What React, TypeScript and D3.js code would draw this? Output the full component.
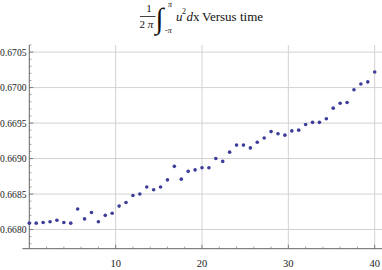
import React from 'react';
import * as d3 from 'd3';

const times = [0, 0.8, 1.6, 2.4, 3.2, 4, 4.8, 5.6, 6.4, 7.2, 8, 8.8, 9.6, 10.4, 11.2, 12, 12.8, 13.6, 14.4, 15.2, 16, 16.8, 17.6, 18.4, 19.2, 20, 20.8, 21.6, 22.4, 23.2, 24, 24.8, 25.6, 26.4, 27.2, 28, 28.8, 29.6, 30.4, 31.2, 32, 32.8, 33.6, 34.4, 35.2, 36, 36.8, 37.6, 38.4, 39.2, 40];
const values = [0.66809, 0.66809, 0.6681, 0.66811, 0.66813, 0.6681, 0.66809, 0.66829, 0.66815, 0.66824, 0.66811, 0.6682, 0.66823, 0.66833, 0.66838, 0.66848, 0.6685, 0.6686, 0.66856, 0.6686, 0.6687, 0.66889, 0.66871, 0.66882, 0.66884, 0.66887, 0.66887, 0.669, 0.66896, 0.66909, 0.66919, 0.66919, 0.66915, 0.66923, 0.66929, 0.66938, 0.66935, 0.66933, 0.66939, 0.6694, 0.66948, 0.66951, 0.66951, 0.66956, 0.66971, 0.66978, 0.66979, 0.66997, 0.67005, 0.67008, 0.67022];
const xMajorTicks = [10, 20, 30, 40];
const yMajorTicks = [0.668, 0.6685, 0.669, 0.6695, 0.67, 0.6705];
const yTickLabels = ['0.6680', '0.6685', '0.6690', '0.6695', '0.6700', '0.6705'];

const W = 382;
const H = 270;

export default function App() {
  const x = d3.scaleLinear().domain([-0.8, 40.8]).range([22.4, 381.6]);
  const y = d3.scaleLinear().domain([0.66773, 0.6706]).range([248.7, 45]);
  const x0 = x(0);
  const yBase = y(0.66773);
  const xMinor = d3.range(2, 41, 2).filter((t) => t % 10 !== 0);
  const yMinor = d3.range(6678, 6707).map((v) => v / 10000).filter((v) => Math.round(v * 10000) % 5 !== 0);
  const grid = '#d2d2d2';
  const axis = '#666';
  const serif = "'Liberation Serif', 'Times New Roman', serif";
  return (
    <svg width={W} height={H} style={{ position: 'absolute', left: 0, top: 0, background: '#fff', fontFamily: serif }}>
      <rect width={W} height={H} fill="#fff" />
      {xMajorTicks.map((t) => (
        <line key={'gx' + t} x1={x(t)} x2={x(t)} y1={45} y2={yBase} stroke={grid} strokeWidth={1} />
      ))}
      {yMajorTicks.map((v) => (
        <line key={'gy' + v} x1={x0} x2={W} y1={y(v)} y2={y(v)} stroke={grid} strokeWidth={1} />
      ))}
      <line x1={x0} x2={x0} y1={45} y2={yBase} stroke={axis} strokeWidth={1} />
      <line x1={22.4} x2={W} y1={yBase} y2={yBase} stroke={axis} strokeWidth={1} />
      {yMajorTicks.map((v) => (
        <line key={'ty' + v} x1={x0} x2={x0 + 4} y1={y(v)} y2={y(v)} stroke={axis} strokeWidth={0.8} />
      ))}
      {yMinor.map((v) => (
        <line key={'tym' + v} x1={x0} x2={x0 + 2.2} y1={y(v)} y2={y(v)} stroke={axis} strokeWidth={0.6} />
      ))}
      {xMajorTicks.map((t) => (
        <line key={'tx' + t} x1={x(t)} x2={x(t)} y1={yBase} y2={yBase - 4} stroke={axis} strokeWidth={0.8} />
      ))}
      {xMinor.map((t) => (
        <line key={'txm' + t} x1={x(t)} x2={x(t)} y1={yBase} y2={yBase - 2.2} stroke={axis} strokeWidth={0.6} />
      ))}
      {yMajorTicks.map((v, i) => (
        <text key={'ly' + v} x={26.5} y={y(v) + 3.5} fontSize={9.6} textAnchor="end" fill="#222" style={{ fontFamily: serif }}>
          {yTickLabels[i]}
        </text>
      ))}
      {xMajorTicks.map((t) => (
        <text key={'lx' + t} x={x(t)} y={267} fontSize={10.5} textAnchor="middle" fill="#222" style={{ fontFamily: serif }}>
          {t}
        </text>
      ))}
      {values.map((v, i) => (
        <circle key={'p' + i} cx={x(times[i])} cy={y(v)} r={1.8} fill="#3d3d99" />
      ))}
      <g fill="#111" style={{ fontFamily: serif }}>
        <text x={149} y={12} fontSize={11} textAnchor="middle">1</text>
        <line x1={140} x2={155.5} y1={16.5} y2={16.5} stroke="#111" strokeWidth={0.8} />
        <text x={146.5} y={28} fontSize={11} textAnchor="middle">
          2 <tspan fontStyle="italic">π</tspan>
        </text>
        <text x={155.5} y={27.5} fontSize={29}>∫</text>
        <text x={168} y={6.5} fontSize={8} fontStyle="italic">π</text>
        <text x={165} y={33} fontSize={8}>-<tspan fontStyle="italic">π</tspan></text>
        <text x={176} y={20.5} fontSize={13} fontStyle="italic">u</text>
        <text x={182} y={14} fontSize={8}>2</text>
        <text x={186.5} y={20.5} fontSize={13}><tspan fontStyle="italic">d</tspan>x</text>
        <text x={202} y={20.5} fontSize={13}>Versus time</text>
      </g>
    </svg>
  );
}
